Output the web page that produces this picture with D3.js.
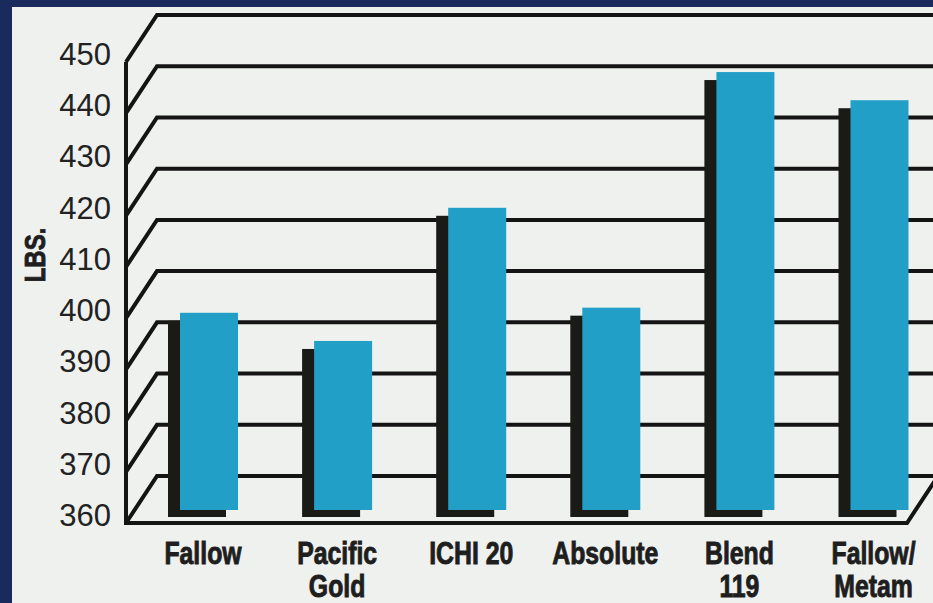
<!DOCTYPE html>
<html>
<head>
<meta charset="utf-8">
<script src="https://cdn.jsdelivr.net/npm/d3@7"></script>
<style>
  body { margin: 0; background: #1b2a5c; }
  svg { display: block; }
  .tick-label { font-family: "Liberation Sans", Arial, sans-serif; font-size: 31px; fill: #222; }
  .cat-label, .axis-title {
    font-family: "Liberation Sans", Arial, sans-serif;
    font-weight: bold;
    fill: #1e1e1e;
    stroke: #1e1e1e;
    stroke-width: 0.9px;
  }
</style>
</head>
<body>
<div id="chart"></div>
<script>
// data
var categories = ['Fallow', 'Pacific\nGold', 'ICHI 20', 'Absolute', 'Blend\n119', 'Fallow/\nMetam'];
var yields = [398.5, 393, 419, 399.5, 445.5, 440];
var yTicks = [360, 370, 380, 390, 400, 410, 420, 430, 440, 450];
var yTitle = 'LBS.';

var width = 933, height = 603;
var depth = { dx: 31, dy: -47 };   // front axis -> back wall
var frontX = 126;
var barWidth = 58;
var shadow = { dx: -12, dy: 8 };
var narrow = 0.8;                  // fake a condensed face

var svg = d3.select('#chart').append('svg')
  .attr('width', width)
  .attr('height', height);

// navy frame + paper
svg.append('rect').attr('width', width).attr('height', height).attr('fill', '#1b2a5c');
svg.append('rect')
  .attr('x', 12).attr('y', 7)
  .attr('width', width - 12).attr('height', height - 7)
  .attr('fill', '#eef1ee');

var yFront = d3.scaleLinear().domain([360, 450]).range([523, 62]);
var yBack = yFront.copy().range([523 + depth.dy, 62 + depth.dy]);
// bars stand a little way back on the floor
var yBar = yFront.copy().range([510, 510 - (523 - 62)]);

var x = d3.scalePoint()
  .domain(categories)
  .range([209, 879.5]);

var grid = svg.append('g')
  .attr('fill', 'none')
  .attr('stroke', '#141414')
  .attr('stroke-width', 4)
  .attr('stroke-linejoin', 'miter');

// back wall lines + left wall diagonals
grid.selectAll('path.grid')
  .data(yTicks)
  .enter()
  .append('path')
  .attr('class', 'grid')
  .attr('d', function(d) {
    return 'M' + frontX + ',' + yFront(d) +
      'L' + (frontX + depth.dx) + ',' + yBack(d) +
      'L' + (width + 5) + ',' + yBack(d);
  });

// floor front edge with its right corner
var floorEnd = 907;
grid.append('path')
  .attr('d', 'M' + frontX + ',' + yFront(360) +
    'L' + floorEnd + ',' + yFront(360) +
    'L' + (floorEnd + depth.dx) + ',' + yBack(360));

// front vertical axis
grid.append('path')
  .attr('d', 'M' + frontX + ',' + yFront(450) + 'L' + frontX + ',' + (yFront(360) + 2));

// bars
var bars = svg.append('g')
  .selectAll('g.bar')
  .data(categories)
  .enter()
  .append('g')
  .attr('class', 'bar');

bars.append('rect')
  .attr('x', function(d) { return x(d) - barWidth / 2 + shadow.dx; })
  .attr('y', function(d, i) { return yBar(yields[i]) + shadow.dy; })
  .attr('width', barWidth)
  .attr('height', function(d, i) { return yBar(360) - yBar(yields[i]) - 1; })
  .attr('fill', '#1a1a17');

bars.append('rect')
  .attr('x', function(d) { return x(d) - barWidth / 2; })
  .attr('y', function(d, i) { return yBar(yields[i]); })
  .attr('width', barWidth)
  .attr('height', function(d, i) { return yBar(360) - yBar(yields[i]); })
  .attr('fill', '#229fc7');

// y tick labels
svg.append('g')
  .selectAll('text')
  .data(yTicks)
  .enter()
  .append('text')
  .attr('class', 'tick-label')
  .attr('x', 111)
  .attr('y', function(d) { return yFront(d) + 3; })
  .attr('text-anchor', 'end')
  .text(function(d) { return d; });

// axis title
svg.append('text')
  .attr('class', 'axis-title')
  .attr('transform', 'translate(45,255) rotate(-90) scale(' + narrow + ',1)')
  .attr('text-anchor', 'middle')
  .attr('font-size', 30)
  .text(yTitle);

// category labels
var cats = svg.append('g')
  .selectAll('text')
  .data(categories)
  .enter()
  .append('text')
  .attr('class', 'cat-label')
  .attr('font-size', 31)
  .attr('text-anchor', 'middle')
  .attr('transform', function(d) {
    return 'translate(' + (x(d) - 6) + ',564) scale(' + narrow + ',1)';
  });

cats.selectAll('tspan')
  .data(function(d) { return d.split('\n'); })
  .enter()
  .append('tspan')
  .attr('x', 0)
  .attr('dy', function(d, i) { return i ? 33 : 0; })
  .text(function(d) { return d; });
</script>
</body>
</html>
